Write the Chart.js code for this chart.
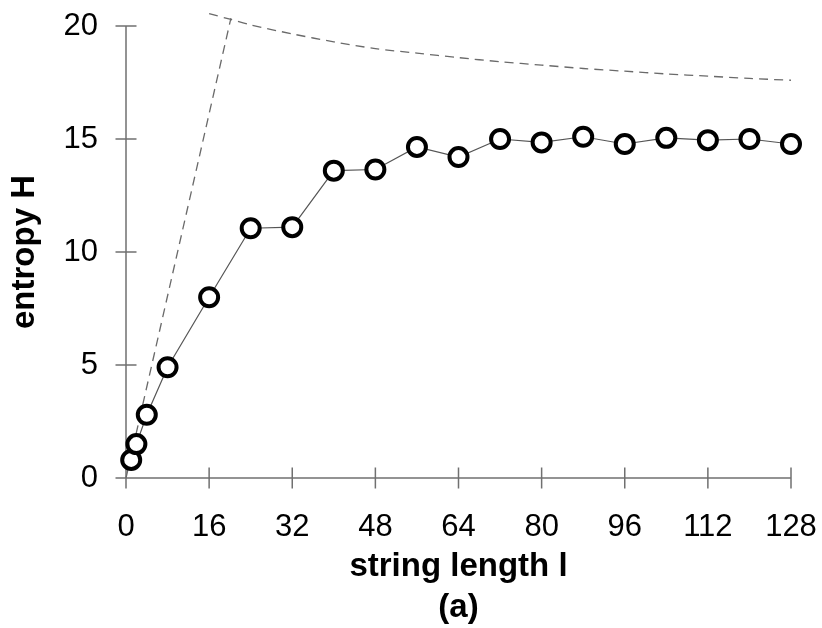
<!DOCTYPE html>
<html lang="en">
<head>
  <meta charset="UTF-8">
  <title>Entropy vs string length</title>
  <script src="https://cdn.jsdelivr.net/npm/chart.js"></script>
  <style>
    body {
      margin: 0;
      background: #fff;
    }
    canvas {
      display: block;
    }
  </style>
</head>
<body>
  <canvas id="chart" width="822" height="628"></canvas>

  <script>
    // measured points
    const lengths = [1, 2, 4, 8, 16, 24, 32, 40, 48, 56, 64, 72, 80, 88, 96, 104, 112, 120, 128];
    const entropy = [0.8, 1.5, 2.8, 4.9, 8.0, 11.05, 11.1, 13.6, 13.65, 14.65, 14.2, 15.0, 14.85, 15.1, 14.78, 15.05, 14.95, 15.0, 14.78];

    // dashed bound: rising straight part
    const riseX = [0, 20.2];
    const riseY = [0, 20.35];

    // dashed bound: slowly falling part
    const fallX = [16, 20, 24, 32, 40, 48, 56, 64, 72, 80, 88, 96, 104, 112, 120, 128];
    const fallY = [20.55, 20.3, 20.05, 19.65, 19.3, 19.0, 18.8, 18.6, 18.42, 18.27, 18.12, 18.0, 17.88, 17.78, 17.68, 17.6];

    const xTicks = [0, 16, 32, 48, 64, 80, 96, 112, 128];
    const yTicks = [0, 5, 10, 15, 20];

    const toPts = (xs, ys) => xs.map((v, i) => ({ x: v, y: ys[i] }));
    const FONT = '"Liberation Sans", Arial, sans-serif';

    // axis lines with ticks crossing both sides
    const crossAxes = {
      id: 'crossAxes',
      beforeDatasetsDraw(chart) {
        const { ctx, scales: { x, y } } = chart;
        const x0 = x.getPixelForValue(0);
        const y0 = y.getPixelForValue(0);
        const half = 10.5;
        ctx.save();
        ctx.strokeStyle = '#707070';
        ctx.lineWidth = 1.5;
        ctx.beginPath();
        ctx.moveTo(x0, y.getPixelForValue(yTicks[yTicks.length - 1]));
        ctx.lineTo(x0, y0);
        ctx.moveTo(x0, y0);
        ctx.lineTo(x.getPixelForValue(xTicks[xTicks.length - 1]), y0);
        xTicks.forEach(v => {
          const px = x.getPixelForValue(v);
          ctx.moveTo(px, y0 - half);
          ctx.lineTo(px, y0 + half);
        });
        yTicks.forEach(v => {
          const py = y.getPixelForValue(v);
          ctx.moveTo(x0 - half, py);
          ctx.lineTo(x0 + half, py);
        });
        ctx.stroke();
        ctx.restore();
      }
    };

    // keep the plot box exactly where the picture has it
    const noPad = s => {
      s.paddingLeft = 0;
      s.paddingRight = 0;
      s.paddingTop = 0;
      s.paddingBottom = 0;
    };

    new Chart(document.getElementById('chart'), {
      type: 'scatter',
      data: {
        datasets: [
          {
            data: toPts(lengths, entropy),
            showLine: true,
            borderColor: '#555',
            borderWidth: 1.2,
            pointRadius: 9,
            pointBorderWidth: 4,
            pointBorderColor: '#000',
            pointBackgroundColor: '#fff',
            clip: false,
            order: 0
          },
          {
            data: toPts(riseX, riseY),
            showLine: true,
            borderColor: '#6a6a6a',
            borderWidth: 1.3,
            borderDash: [9, 6],
            pointRadius: 0,
            clip: false,
            order: 1
          },
          {
            data: toPts(fallX, fallY),
            showLine: true,
            borderColor: '#6a6a6a',
            borderWidth: 1.3,
            borderDash: [9, 6],
            pointRadius: 0,
            tension: 0.3,
            clip: false,
            order: 1
          }
        ]
      },
      options: {
        responsive: false,
        animation: false,
        layout: {
          padding: { top: 26, right: 31, bottom: 0, left: 0 }
        },
        plugins: {
          legend: { display: false },
          tooltip: { enabled: false }
        },
        scales: {
          x: {
            type: 'linear',
            min: 0,
            max: 128,
            afterBuildTicks: s => { s.ticks = xTicks.map(v => ({ value: v })); },
            afterFit: s => { s.height = 150; noPad(s); },
            grid: { display: false, drawTicks: false },
            border: { display: false },
            ticks: {
              color: '#000',
              padding: 31,
              maxRotation: 0,
              font: { family: FONT, size: 31 }
            },
            title: {
              display: true,
              text: ['string length l', '(a)'],
              color: '#000',
              padding: { top: 0, bottom: 0 },
              font: { family: FONT, size: 33, weight: 'bold', lineHeight: '41px' }
            }
          },
          y: {
            type: 'linear',
            min: 0,
            max: 20,
            afterBuildTicks: s => { s.ticks = yTicks.map(v => ({ value: v })); },
            afterFit: s => { s.width = 126; noPad(s); },
            grid: { display: false, drawTicks: false },
            border: { display: false },
            ticks: {
              color: '#000',
              padding: 28,
              font: { family: FONT, size: 31 }
            },
            title: {
              display: true,
              text: 'entropy H',
              color: '#000',
              padding: { top: 5, bottom: 0 },
              font: { family: FONT, size: 33, weight: 'bold' }
            }
          }
        }
      },
      plugins: [crossAxes]
    });
  </script>
</body>
</html>
